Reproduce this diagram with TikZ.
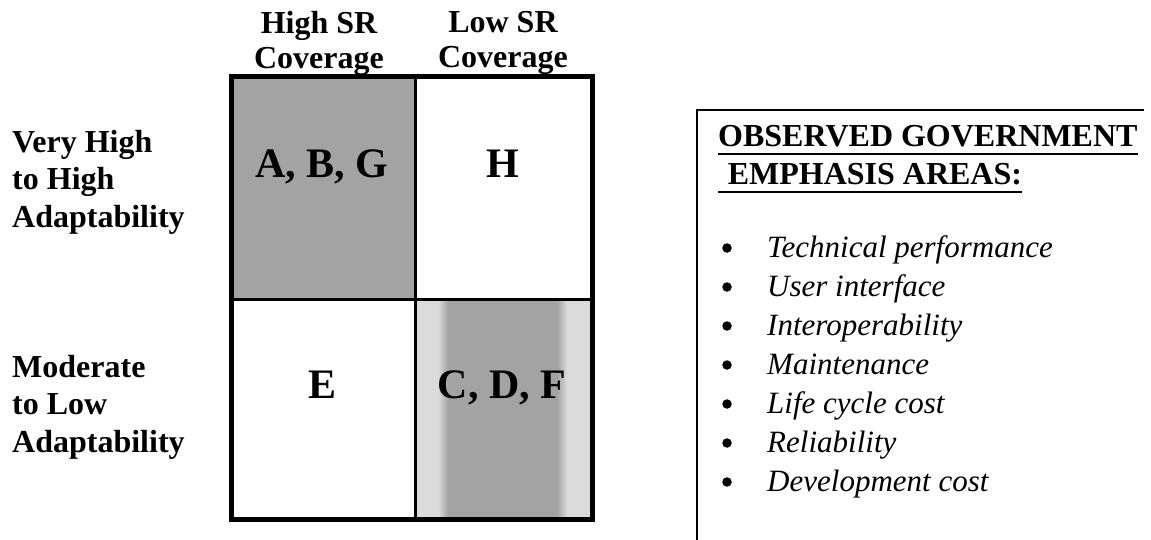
\documentclass[tikz,border=0pt]{standalone}
\usepackage{fontspec}
\setmainfont{Liberation Serif}
\begin{document}
\begin{tikzpicture}[x=1pt,y=-1pt,
  lbl/.style={font=\fontsize{32}{37.5}\selectfont\bfseries, align=left, inner sep=0pt, anchor=north west},
  colhead/.style={font=\fontsize{32}{35}\selectfont\bfseries, align=center, inner sep=0pt, anchor=north},
  cellText/.style={font=\fontsize{42}{48}\selectfont\bfseries, inner sep=0pt, anchor=base},
  headText/.style={font=\fontsize{32}{38}\selectfont\bfseries, inner sep=0pt, anchor=base west},
  itemText/.style={font=\fontsize{31}{38}\selectfont\itshape, inner sep=0pt, anchor=base west},
  bulletDot/.style={circle, fill=black, minimum size=9.5pt, inner sep=0pt},
  darkcell/.style={fill=black!36},
  lightcell/.style={fill=black!14},
  ulrule/.style={line width=2.5pt},
  gridouter/.style={line width=5pt},
  gridinner/.style={line width=3pt},
  panel/.style={line width=2pt}]
\useasboundingbox (0,0) rectangle (1151,540);

% cell shading
\fill[darkcell] (231,77) rectangle (415.5,299.5);
\fill[lightcell] (415.5,299.5) rectangle (592,519.5);
\fill[darkcell] (448,299.5) rectangle (557,519.5);
\shade[left color=black!14, right color=black!36] (438,299.5) rectangle (448,519.5);
\shade[left color=black!36, right color=black!14] (557,299.5) rectangle (567,519.5);

% grid lines
\draw[gridinner] (415.5,77) -- (415.5,519.5);
\draw[gridinner] (231,299.5) -- (592,299.5);
\draw[gridouter] (231,77) rectangle (592,519.5);

% column headers
\node[colhead] (colHigh) at (319,11) {High SR\\Coverage};
\node[colhead] (colLow) at (503,11) {Low SR\\Coverage};

% row labels
\node[lbl] (rowHigh) at (12,130) {Very High\\to High\\Adaptability};
\node[lbl] (rowLow) at (12,355) {Moderate\\to Low\\Adaptability};

% cell contents
\node[cellText] (abg) at (322,178) {A, B, G};
\node[cellText] (h) at (503,178) {H};
\node[cellText] (e) at (323,398) {E};
\node[cellText] (cdf) at (502,398) {C, D, F};

% emphasis panel
\draw[panel] (697,540) -- (697,110) -- (1144,110);
\node[headText] (head1) at (718,147) {OBSERVED GOVERNMENT};
\node[headText] (head2) at (718,185) {\hspace*{0.3em}EMPHASIS AREAS:};
\draw[ulrule] ([yshift=-6.5pt]head1.south west) -- ([yshift=-6.5pt]head1.south east);
\draw[ulrule] ([yshift=-6.5pt]head2.south west) -- ([yshift=-6.5pt]head2.south east);

\foreach \txt [count=\i] in {Technical performance, User interface, Interoperability,
    Maintenance, Life cycle cost, Reliability, Development cost} {
  \node[bulletDot] (dot\i) at (727,{257+39*(\i-1)-9}) {};
  \node[itemText] (item\i) at (767,{257+39*(\i-1)}) {\txt};
}
\end{tikzpicture}
\end{document}
